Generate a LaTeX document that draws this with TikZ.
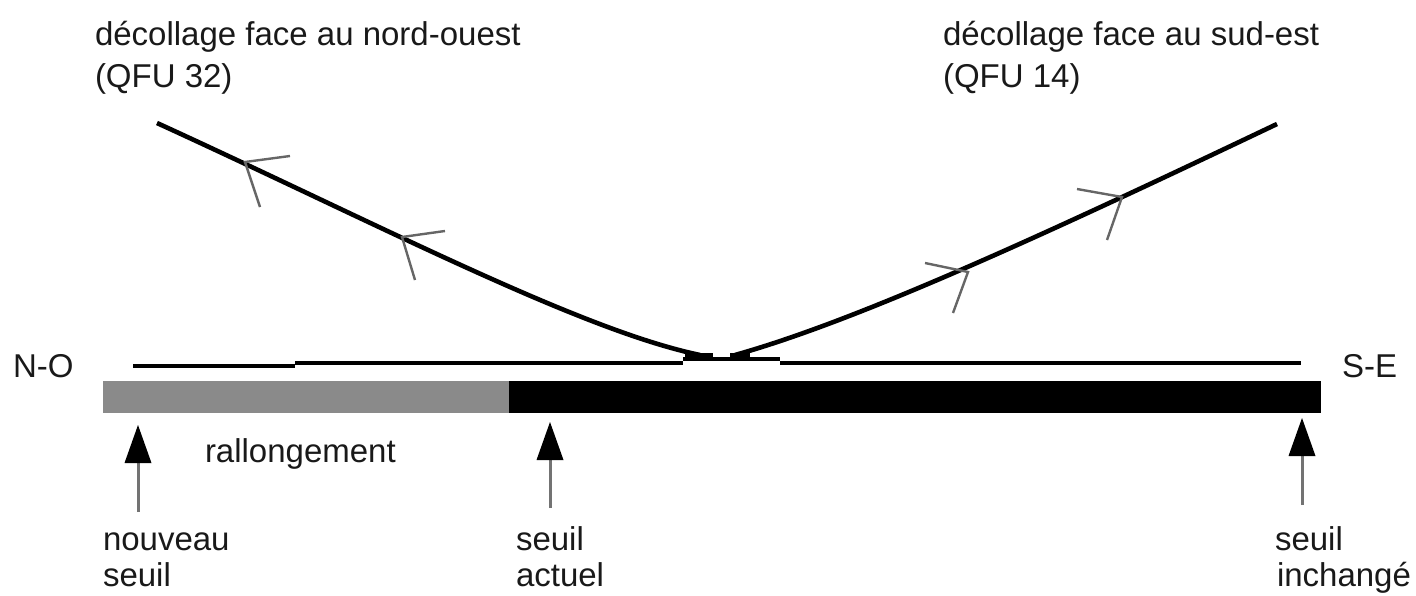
\documentclass[tikz,border=0pt]{standalone}
\usepackage{fontspec}
\setmainfont{Liberation Sans}
\begin{document}
\begin{tikzpicture}[x=1pt,y=-1pt,
  lbl/.style={inner sep=0pt,outer sep=0pt,anchor=base west,font=\fontsize{33}{42}\selectfont,text=black!90},
  flight/.style={line width=4.6pt,black},
  tick/.style={line width=2.4pt,black!60},
  rwy/.style={line width=4pt,black},
  thinrwy/.style={line width=3.2pt,black},
  shaft/.style={line width=3pt,black!55},
  headtri/.style={fill=black}]
\useasboundingbox (0,0) rectangle (1416,595);
% texts
\node[lbl] (tl1) at (95,45) {décollage face au nord-ouest};
\node[lbl] (tl2) at (95,87) {(QFU 32)};
\node[lbl] (tr1) at (943,45) {décollage face au sud-est};
\node[lbl] (tr2) at (943,87) {(QFU 14)};
\node[lbl] (no) at (13,377) {N-O};
\node[lbl] (se) at (1342,377) {S-E};
\node[lbl] (rall) at (205,462) {rallongement};
\node[lbl] (nv1) at (103,550) {nouveau};
\node[lbl] (nv2) at (103,586) {seuil};
\node[lbl] (ac1) at (516,550) {seuil};
\node[lbl] (ac2) at (516,586) {actuel};
\node[lbl] (in1) at (1275,550) {seuil};
\node[lbl] (in2) at (1277,586) {inchangé};
% runway bar
\fill[black!46] (103,381) rectangle (509,413);
\fill[black] (509,381) rectangle (1321,413);
% runway line
\draw[rwy] (133,366) -- (295,366);
\draw[thinrwy] (295,363) -- (683,363);
\draw[thinrwy] (683,359) -- (780,359);
\draw[thinrwy] (780,363) -- (1301,363);
% flight paths
\coordinate (ls) at (157,123);
\coordinate (le) at (700,355);
\coordinate (rs) at (735,355);
\coordinate (re) at (1277,124);
\draw[flight] (ls) .. controls (380,225) and (580,330) .. (le);
\draw[flight] (rs) .. controls (860,320) and (1050,232) .. (re);
\draw[line width=6pt] (685,356) -- (713,356);
\draw[line width=6pt] (730,356) -- (750,356);
% direction markers
\coordinate (m1) at (245,162);
\coordinate (m2) at (402,237);
\coordinate (m3) at (968,272);
\coordinate (m4) at (1122,197);
\draw[tick] (290,156) -- (m1) -- (260,207);
\draw[tick] (445,231) -- (m2) -- (415,280);
\draw[tick] (925,263) -- (m3) -- (953,313);
\draw[tick] (1077,189) -- (m4) -- (1107,240);
% threshold arrows
\coordinate (a1t) at (138,425); \coordinate (a1h) at (138,455); \coordinate (a1b) at (138,512);
\coordinate (a2t) at (550,422); \coordinate (a2h) at (550,452); \coordinate (a2b) at (550,508);
\coordinate (a3t) at (1302,418); \coordinate (a3h) at (1302,448); \coordinate (a3b) at (1302,505);
\draw[shaft] (a1b) -- (a1h);
\draw[shaft] (a2b) -- (a2h);
\draw[shaft] (a3b) -- (a3h);
\fill[headtri] (a1t) -- ++(-13.5,38) -- ++(27,0) -- cycle;
\fill[headtri] (a2t) -- ++(-13.5,38) -- ++(27,0) -- cycle;
\fill[headtri] (a3t) -- ++(-13.5,38) -- ++(27,0) -- cycle;
\end{tikzpicture}
\end{document}
